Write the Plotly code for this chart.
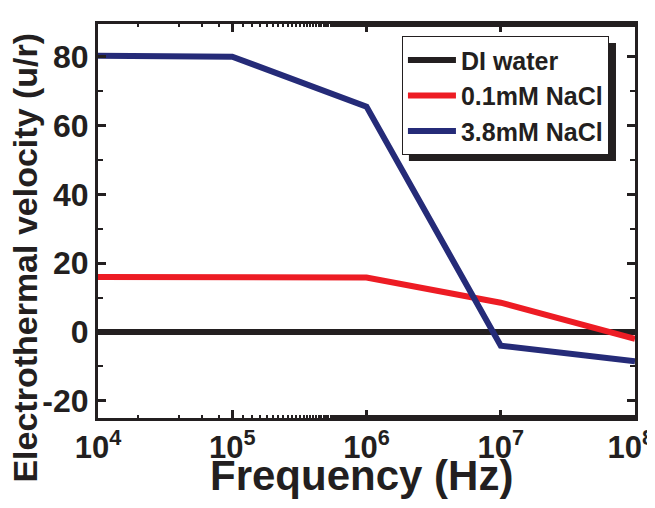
import plotly.graph_objects as go

freq = [1e4, 1e5, 1e6, 1e7, 1e8]
di_water = [0, 0, 0, 0, 0]
nacl_01 = [16, 16, 15.8, 8.5, -2]
nacl_38 = [80.3, 80, 65.5, -4, -8.5]

x_tickvals = [1e4, 1e5, 1e6, 1e7, 1e8]
x_ticktext = ["10<sup>4</sup>", "10<sup>5</sup>", "10<sup>6</sup>", "10<sup>7</sup>", "10<sup>8</sup>\u00a0"]
y_tickvals = [-20, 0, 20, 40, 60, 80]
y_ticktext = ["-20", "0", "20", "40", "60", "80"]

series = [
    ("DI water", di_water, "#231f20"),
    ("0.1mM NaCl", nacl_01, "#ed1c24"),
    ("3.8mM NaCl", nacl_38, "#252b78"),
]

fig = go.Figure()
for name, vals, col in series:
    fig.add_trace(go.Scatter(x=freq, y=vals, mode="lines", name=name,
                             line=dict(color=col, width=6)))

font_family = "Liberation Sans, Arial, sans-serif"
ink = "#231f20"

# page body has an 8px margin, so the figure is shrunk by 8px and margins compensated
fig.update_layout(
    width=647, height=500,
    margin=dict(l=90, r=20, t=16, b=90),
    paper_bgcolor="white", plot_bgcolor="white",
    font=dict(family=font_family, color=ink),
    showlegend=True,
    legend=dict(x=0.566, y=0.969, xanchor="left", yanchor="top",
                bgcolor="white", bordercolor=ink, borderwidth=1,
                font=dict(size=25, family=font_family, color=ink, weight="bold"),
                itemwidth=48, tracegroupgap=0),
    xaxis=dict(type="log", range=[4, 8], tickvals=x_tickvals, ticktext=x_ticktext,
               ticks="inside", ticklen=8, tickwidth=3, tickcolor=ink,
               minor=dict(ticks="inside", ticklen=3, tickwidth=1.5, tickcolor=ink),
               showline=True, linewidth=3, linecolor=ink, mirror="ticks",
               showgrid=False, zeroline=False, automargin=False,
               ticklabeloverflow="allow",
               tickfont=dict(size=31, family=font_family, color=ink, weight="bold")),
    yaxis=dict(range=[-25, 89.5], tickvals=y_tickvals, ticktext=y_ticktext,
               ticks="inside", ticklen=8, tickwidth=3, tickcolor=ink,
               minor=dict(ticks="inside", ticklen=5, tickwidth=2, dtick=10, tick0=10, tickcolor=ink),
               showline=True, linewidth=3, linecolor=ink, mirror="ticks",
               showgrid=False, zeroline=False, automargin=False,
               ticklabeloverflow="allow",
               tickfont=dict(size=32, family=font_family, color=ink, weight="bold")),
)

# axis titles
fig.add_annotation(text="Frequency (Hz)", xref="paper", yref="paper",
                   x=0.4916, y=-0.147, xanchor="center", yanchor="middle",
                   showarrow=False,
                   font=dict(size=42, family=font_family, color=ink, weight="bold"))
fig.add_annotation(text="Electrothermal velocity (u/r)", xref="paper", yref="paper",
                   x=-0.136, y=0.407, xanchor="center", yanchor="middle",
                   textangle=-90, showarrow=False,
                   font=dict(size=34, family=font_family, color=ink, weight="bold"))

# legend drop shadow
fig.add_shape(type="rect", xref="paper", yref="paper",
              x0=0.579, x1=0.9646, y0=0.652, y1=0.952,
              fillcolor=ink, line=dict(width=0), layer="above")

fig.write_html("out.html")
